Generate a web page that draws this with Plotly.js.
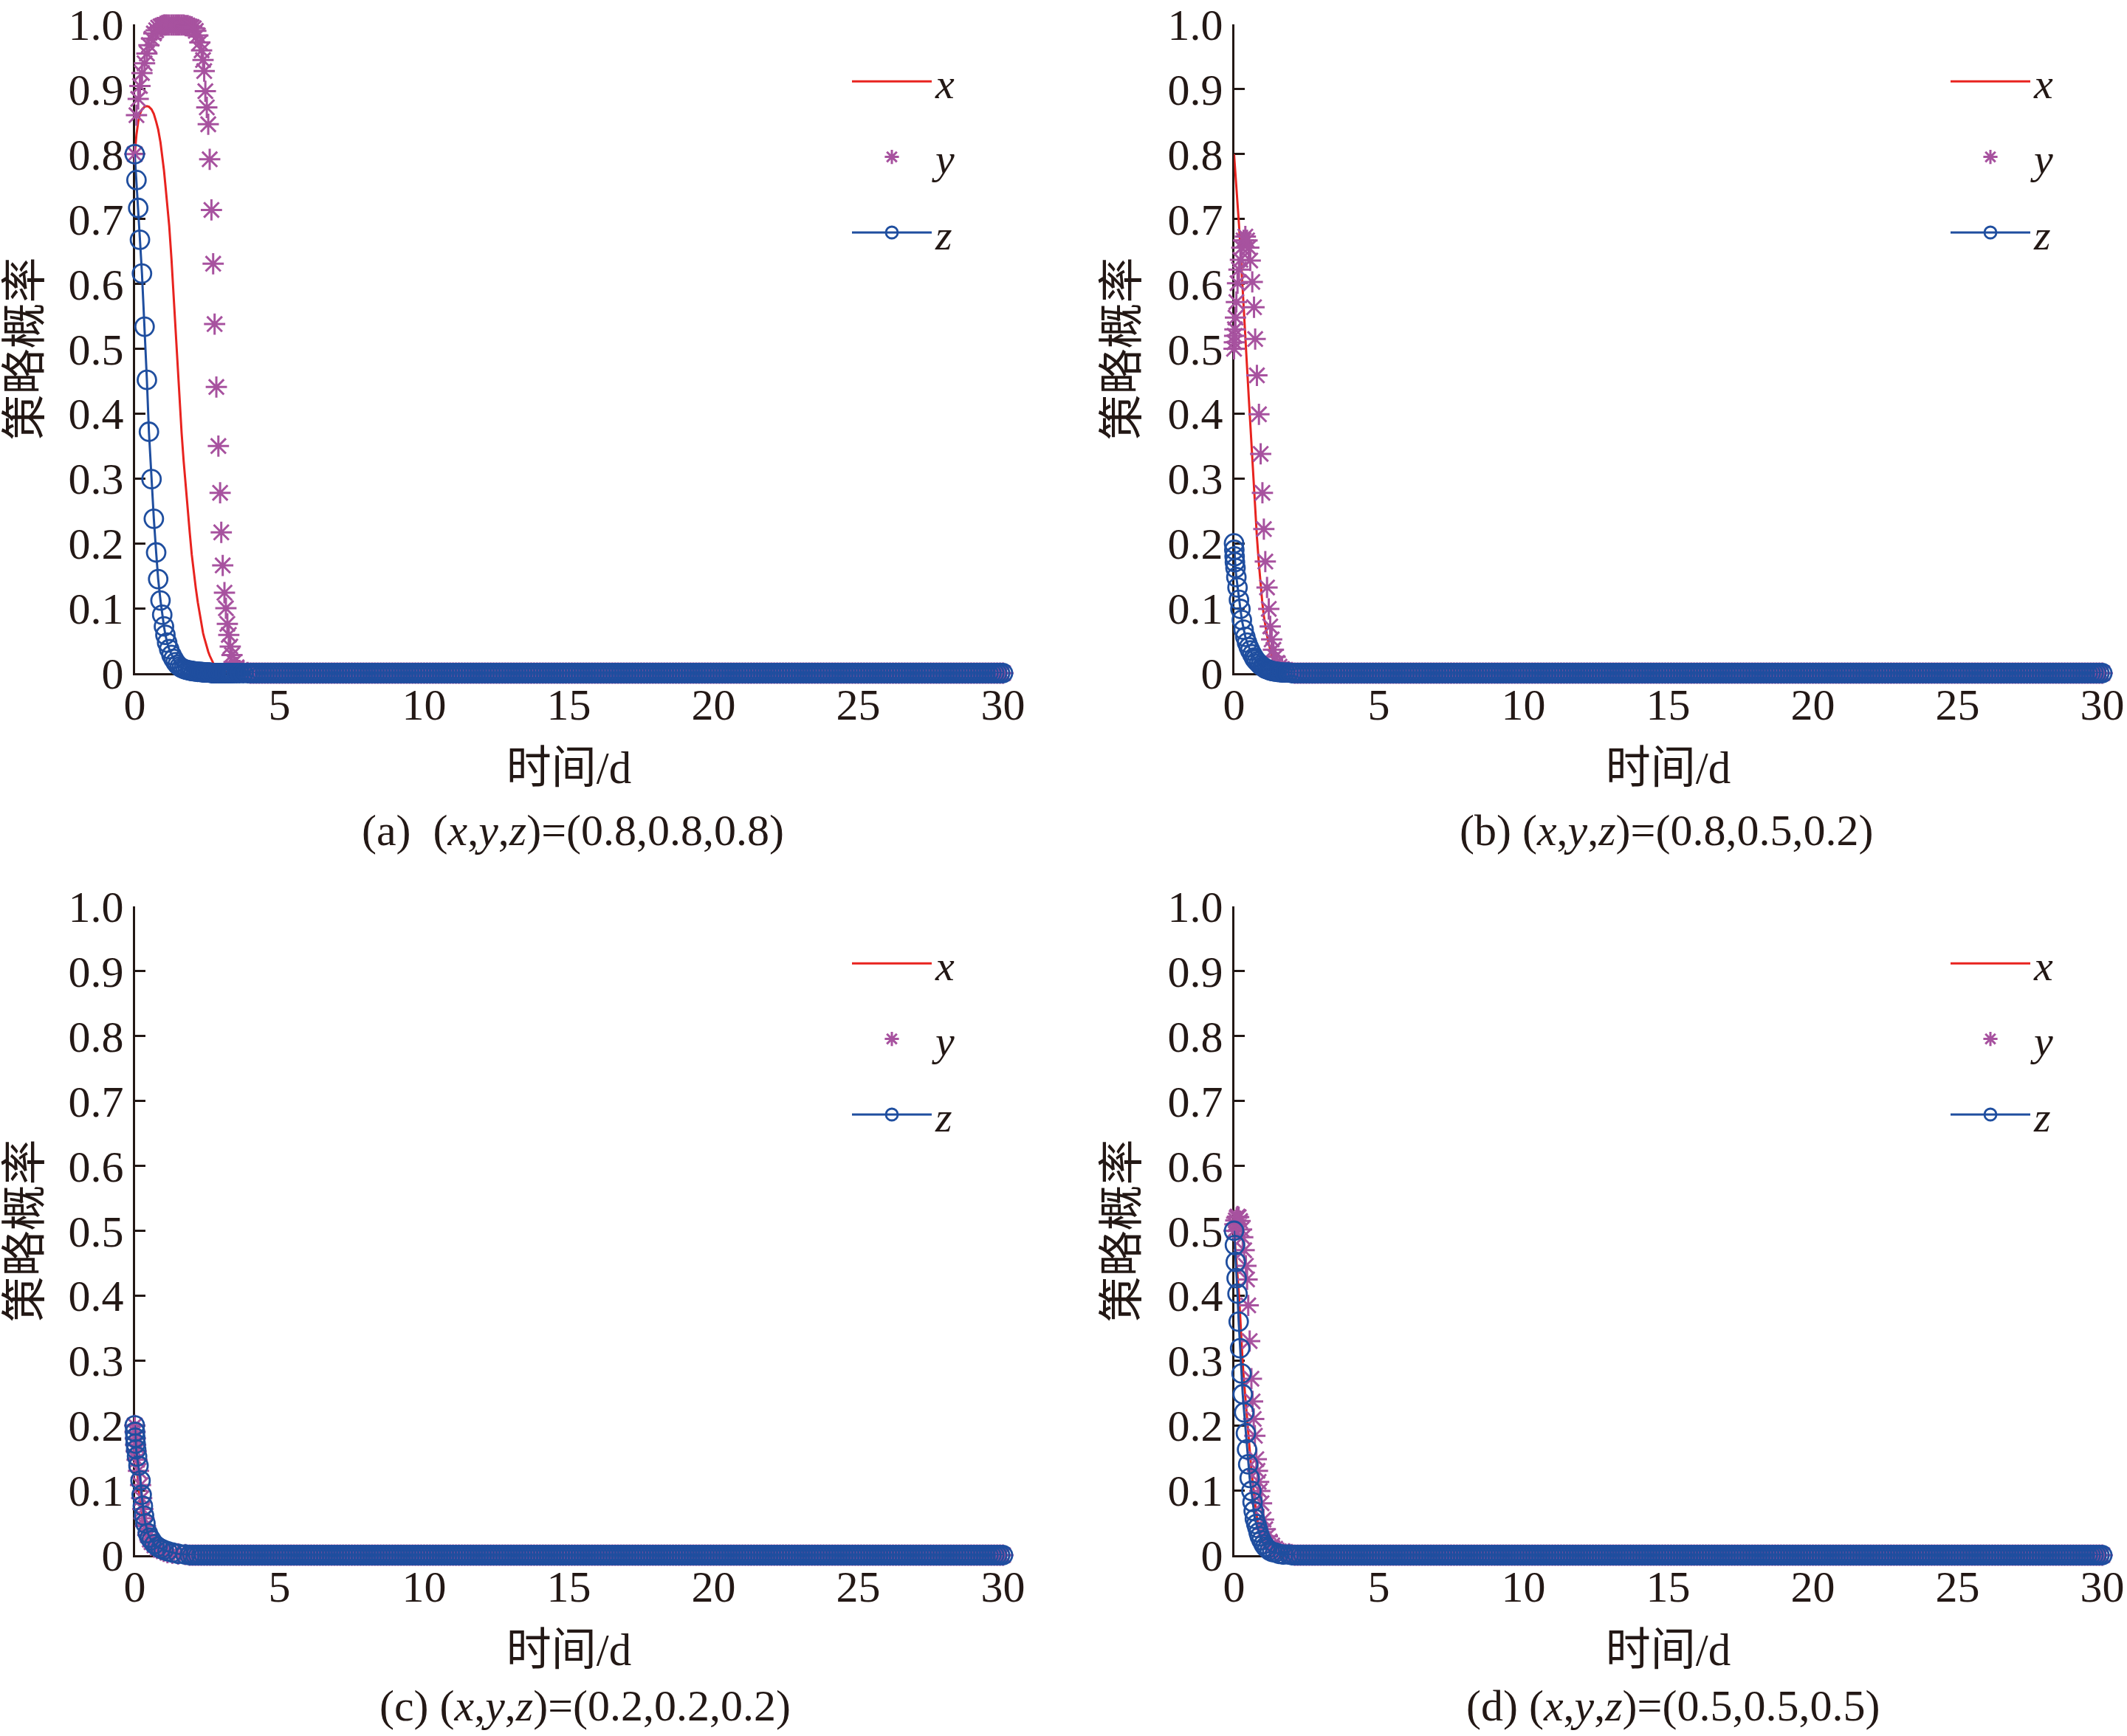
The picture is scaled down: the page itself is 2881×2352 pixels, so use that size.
<!DOCTYPE html>
<html>
<head>
<meta charset="utf-8">
<script src="https://cdn.plot.ly/plotly-3.0.1.min.js"></script>
<style>html,body{margin:0;padding:0;background:#fff;}</style>
</head>
<body>
<div id="chart" style="width:2881px;height:2352px;"></div>
<script>
// ---------- data ----------
const xTicks = [0, 5, 10, 15, 20, 25, 30];
const yTicks = [0, 0.1, 0.2, 0.3, 0.4, 0.5, 0.6, 0.7, 0.8, 0.9, 1.0];
const yTickText = ['0', '0.1', '0.2', '0.3', '0.4', '0.5', '0.6', '0.7', '0.8', '0.9', '1.0'];
const seriesNames = ['x', 'y', 'z'];
const xTitle = '时间/d';
const yTitle = '策略概率';
const captions = [
  '(a)\u00a0\u00a0(<i>x</i>,<i>y</i>,<i>z</i>)=(0.8,0.8,0.8)',
  '(b) (<i>x</i>,<i>y</i>,<i>z</i>)=(0.8,0.5,0.2)',
  '(c) (<i>x</i>,<i>y</i>,<i>z</i>)=(0.2,0.2,0.2)',
  '(d) (<i>x</i>,<i>y</i>,<i>z</i>)=(0.5,0.5,0.5)'
];

// common tail (t >= 4, all strategies at 0): 261 points
const tailT = [
  4,4.1,4.2,4.3,4.4,4.5,4.6,4.7,4.8,4.9,
  5,5.1,5.2,5.3,5.4,5.5,5.6,5.7,5.8,5.9,
  6,6.1,6.2,6.3,6.4,6.5,6.6,6.7,6.8,6.9,
  7,7.1,7.2,7.3,7.4,7.5,7.6,7.7,7.8,7.9,
  8,8.1,8.2,8.3,8.4,8.5,8.6,8.7,8.8,8.9,
  9,9.1,9.2,9.3,9.4,9.5,9.6,9.7,9.8,9.9,
  10,10.1,10.2,10.3,10.4,10.5,10.6,10.7,10.8,10.9,
  11,11.1,11.2,11.3,11.4,11.5,11.6,11.7,11.8,11.9,
  12,12.1,12.2,12.3,12.4,12.5,12.6,12.7,12.8,12.9,
  13,13.1,13.2,13.3,13.4,13.5,13.6,13.7,13.8,13.9,
  14,14.1,14.2,14.3,14.4,14.5,14.6,14.7,14.8,14.9,
  15,15.1,15.2,15.3,15.4,15.5,15.6,15.7,15.8,15.9,
  16,16.1,16.2,16.3,16.4,16.5,16.6,16.7,16.8,16.9,
  17,17.1,17.2,17.3,17.4,17.5,17.6,17.7,17.8,17.9,
  18,18.1,18.2,18.3,18.4,18.5,18.6,18.7,18.8,18.9,
  19,19.1,19.2,19.3,19.4,19.5,19.6,19.7,19.8,19.9,
  20,20.1,20.2,20.3,20.4,20.5,20.6,20.7,20.8,20.9,
  21,21.1,21.2,21.3,21.4,21.5,21.6,21.7,21.8,21.9,
  22,22.1,22.2,22.3,22.4,22.5,22.6,22.7,22.8,22.9,
  23,23.1,23.2,23.3,23.4,23.5,23.6,23.7,23.8,23.9,
  24,24.1,24.2,24.3,24.4,24.5,24.6,24.7,24.8,24.9,
  25,25.1,25.2,25.3,25.4,25.5,25.6,25.7,25.8,25.9,
  26,26.1,26.2,26.3,26.4,26.5,26.6,26.7,26.8,26.9,
  27,27.1,27.2,27.3,27.4,27.5,27.6,27.7,27.8,27.9,
  28,28.1,28.2,28.3,28.4,28.5,28.6,28.7,28.8,28.9,
  29,29.1,29.2,29.3,29.4,29.5,29.6,29.7,29.8,29.9,
  30];
const tailZero = [
  0,0,0,0,0,0,0,0,0,0,
  0,0,0,0,0,0,0,0,0,0,
  0,0,0,0,0,0,0,0,0,0,
  0,0,0,0,0,0,0,0,0,0,
  0,0,0,0,0,0,0,0,0,0,
  0,0,0,0,0,0,0,0,0,0,
  0,0,0,0,0,0,0,0,0,0,
  0,0,0,0,0,0,0,0,0,0,
  0,0,0,0,0,0,0,0,0,0,
  0,0,0,0,0,0,0,0,0,0,
  0,0,0,0,0,0,0,0,0,0,
  0,0,0,0,0,0,0,0,0,0,
  0,0,0,0,0,0,0,0,0,0,
  0,0,0,0,0,0,0,0,0,0,
  0,0,0,0,0,0,0,0,0,0,
  0,0,0,0,0,0,0,0,0,0,
  0,0,0,0,0,0,0,0,0,0,
  0,0,0,0,0,0,0,0,0,0,
  0,0,0,0,0,0,0,0,0,0,
  0,0,0,0,0,0,0,0,0,0,
  0,0,0,0,0,0,0,0,0,0,
  0,0,0,0,0,0,0,0,0,0,
  0,0,0,0,0,0,0,0,0,0,
  0,0,0,0,0,0,0,0,0,0,
  0,0,0,0,0,0,0,0,0,0,
  0,0,0,0,0,0,0,0,0,0,
  0];

// (a) (0.8,0.8,0.8)
const tA = [0,0.06,0.12,0.18,0.25,0.34,0.42,0.49,0.58,0.66,
  0.74,0.81,0.89,0.95,1.01,1.06,1.12,1.19,1.27,1.34,
  1.41,1.48,1.55,1.62,1.69,1.76,1.83,1.90,1.97,2.04,
  2.11,2.18,2.25,2.31,2.36,2.40,2.44,2.49,2.54,2.59,
  2.65,2.71,2.76,2.82,2.89,2.95,2.99,3.04,3.10,3.15,
  3.20,3.25,3.30,3.36,3.43,3.52,3.62,3.75,3.90];
const xA = [0.80,0.83,0.85,0.862,0.869,0.873,0.874,0.873,0.869,0.862,
  0.85,0.838,0.818,0.798,0.775,0.752,0.727,0.69,0.638,0.585,
  0.53,0.472,0.417,0.37,0.327,0.287,0.25,0.217,0.183,0.155,
  0.131,0.109,0.089,0.072,0.062,0.055,0.048,0.039,0.033,0.027,
  0.021,0.015,0.011,0.009,0.006,0.004,0.003,0.003,0.002,0.002,
  0.001,0.001,0.001,0,0,0,0,0,0];
const yA = [0.80,0.86,0.885,0.905,0.925,0.94,0.955,0.968,0.978,0.986,
  0.991,0.995,0.997,0.998,0.999,0.999,0.999,0.999,0.999,0.999,
  0.999,0.999,0.999,0.999,0.999,0.998,0.998,0.997,0.996,0.994,
  0.99,0.983,0.972,0.96,0.945,0.928,0.897,0.872,0.846,0.792,
  0.714,0.631,0.538,0.441,0.35,0.278,0.217,0.166,0.124,0.1,
  0.076,0.059,0.041,0.028,0.017,0.009,0.004,0.002,0.001];
const zA = [0.80,0.76,0.717,0.668,0.616,0.534,0.452,0.372,0.299,0.238,
  0.186,0.145,0.112,0.09,0.072,0.059,0.047,0.037,0.028,0.022,
  0.017,0.013,0.010,0.008,0.0065,0.0055,0.0045,0.004,0.0035,0.003,
  0.0025,0.002,0.002,0.0015,0.0015,0.001,0.001,0.001,0.001,0.001,
  0,0,0,0,0,0,0,0,0,0,
  0,0,0,0,0,0,0,0,0];

// (b) (0.8,0.5,0.2)
const tB = [0,0.01,0.02,0.03,0.05,0.08,0.12,0.17,0.22,0.27,
  0.33,0.39,0.45,0.51,0.56,0.63,0.69,0.73,0.79,0.86,
  0.92,0.98,1.03,1.08,1.14,1.20,1.25,1.30,1.36,1.42,
  1.49,1.57,1.66,1.76,1.88,
  2.0,2.1,2.2,2.3,2.4,2.5,2.6,2.7,2.8,2.9,
  3.0,3.1,3.2,3.3,3.4,3.5,3.6,3.7,3.8,3.9];
const xB = [0.8,0.794,0.788,0.782,0.771,0.754,0.73,0.692,0.654,0.617,
  0.568,0.519,0.471,0.424,0.385,0.328,0.28,0.252,0.21,0.168,
  0.135,0.107,0.088,0.072,0.058,0.045,0.036,0.029,0.023,0.018,
  0.013,0.009,0.006,0.004,0.003,
  0.002,0.001,0.001,0,0,0,0,0,0,0,
  0,0,0,0,0,0,0,0,0,0];
const yB = [0.5,0.51,0.52,0.53,0.548,0.572,0.601,0.622,0.637,0.656,
  0.667,0.673,0.667,0.656,0.636,0.603,0.564,0.515,0.459,0.399,
  0.338,0.278,0.222,0.172,0.132,0.099,0.072,0.052,0.036,0.025,
  0.016,0.010,0.006,0.003,0.002,
  0.001,0,0,0,0,0,0,0,0,0,
  0,0,0,0,0,0,0,0,0,0];
const zB = [0.2,0.19,0.18,0.171,0.162,0.148,0.132,0.113,0.099,0.082,
  0.067,0.056,0.047,0.04,0.035,0.029,0.024,0.021,0.018,0.015,
  0.012,0.01,0.009,0.007,0.006,0.005,0.004,0.0035,0.003,0.0025,
  0.002,0.0015,0.001,0.001,0.001,
  0,0,0,0,0,0,0,0,0,0,
  0,0,0,0,0,0,0,0,0,0];

// (c) (0.2,0.2,0.2)
const tC = [0,0.01,0.02,0.03,0.05,0.08,0.13,0.2,0.24,0.28,
  0.32,0.37,0.45,0.52,0.58,0.68,0.79,0.9,1.0,1.13,
  1.3,1.5,1.75,
  1.9,2.0,2.1,2.2,2.3,2.4,2.5,2.6,2.7,2.8,2.9,
  3.0,3.1,3.2,3.3,3.4,3.5,3.6,3.7,3.8,3.9];
const xC = [0.2,0.188,0.177,0.167,0.15,0.13,0.105,0.08,0.068,0.058,
  0.05,0.041,0.03,0.023,0.018,0.013,0.009,0.006,0.005,0.003,
  0.002,0.001,0,
  0,0,0,0,0,0,0,0,0,0,0,
  0,0,0,0,0,0,0,0,0,0];
const yC = [0.2,0.19,0.18,0.17,0.16,0.147,0.13,0.108,0.088,0.071,
  0.057,0.045,0.031,0.024,0.02,0.015,0.011,0.008,0.006,0.004,
  0.003,0.002,0.001,
  0,0,0,0,0,0,0,0,0,0,0,
  0,0,0,0,0,0,0,0,0,0];
const zC = [0.2,0.19,0.181,0.172,0.163,0.152,0.138,0.115,0.093,0.076,
  0.061,0.049,0.034,0.027,0.023,0.017,0.013,0.010,0.008,0.006,
  0.004,0.002,0.001,
  0,0,0,0,0,0,0,0,0,0,0,
  0,0,0,0,0,0,0,0,0,0];

// (d) (0.5,0.5,0.5)
const tD = [0,0.03,0.06,0.09,0.12,0.16,0.21,0.26,0.3,0.35,
  0.41,0.45,0.49,0.54,0.6,0.64,0.68,0.72,0.77,0.81,
  0.85,0.89,0.95,1.02,1.08,1.15,1.23,1.32,1.42,1.55,
  1.7,1.9,
  2.0,2.1,2.2,2.3,2.4,2.5,2.6,2.7,2.8,2.9,
  3.0,3.1,3.2,3.3,3.4,3.5,3.6,3.7,3.8,3.9];
const xD = [0.5,0.483,0.466,0.448,0.43,0.408,0.37,0.319,0.295,0.265,
  0.232,0.21,0.184,0.162,0.131,0.115,0.097,0.08,0.064,0.054,
  0.042,0.035,0.026,0.019,0.015,0.01,0.007,0.005,0.004,0.002,
  0.001,0,
  0,0,0,0,0,0,0,0,0,0,
  0,0,0,0,0,0,0,0,0,0];
const yD = [0.5,0.51,0.516,0.52,0.522,0.521,0.515,0.502,0.49,0.47,
  0.446,0.425,0.385,0.33,0.272,0.237,0.21,0.184,0.148,0.13,
  0.113,0.099,0.08,0.055,0.04,0.029,0.021,0.015,0.01,0.006,
  0.003,0.002,
  0.001,0,0,0,0,0,0,0,0,0,
  0,0,0,0,0,0,0,0,0,0];
const zD = [0.5,0.478,0.452,0.427,0.403,0.36,0.319,0.28,0.248,0.22,
  0.188,0.163,0.14,0.119,0.099,0.082,0.068,0.056,0.048,0.042,
  0.035,0.029,0.023,0.017,0.013,0.01,0.007,0.005,0.004,0.002,
  0.001,0.001,
  0,0,0,0,0,0,0,0,0,0,
  0,0,0,0,0,0,0,0,0,0];

// ---------- style ----------
const W = 2881, H = 2352;
const INK = '#231815';
const RED = '#E8231F';
const PURPLE = '#A7529F';
const BLUE = '#1F4E9F';
const SERIF = 'Liberation Serif, "Noto Sans CJK SC", serif';

const panels = [
  {t: tA, s: [xA, yA, zA]},
  {t: tB, s: [xB, yB, zB]},
  {t: tC, s: [xC, yC, zC]},
  {t: tD, s: [xD, yD, zD]}
];

// pixel geometry of the four plot areas
const geo = [
  {x0: 182.5, x1: 1358.5, y0: 912, y1: 33},
  {x0: 1671.5, x1: 2847.5, y0: 912, y1: 33},
  {x0: 182.5, x1: 1358.5, y0: 2107, y1: 1228},
  {x0: 1671.5, x1: 2847.5, y0: 2107, y1: 1228}
];
const legendPos = [
  {x: 1149, y: 66}, {x: 2637, y: 66}, {x: 1149, y: 1261}, {x: 2637, y: 1261}
];
const captionPos = [
  {x: 776, y: 1125}, {x: 2257, y: 1125}, {x: 792, y: 2311}, {x: 2266, y: 2311}
];

const data = [];
const layout = {
  width: W, height: H,
  margin: {l: 0, r: 0, t: 0, b: 0},
  paper_bgcolor: '#fff', plot_bgcolor: 'rgba(0,0,0,0)',
  font: {family: SERIF, color: INK},
  annotations: []
};

panels.forEach((p, i) => {
  const k = i + 1;
  const sfx = k === 1 ? '' : String(k);
  const lg = k === 1 ? 'legend' : 'legend' + k;
  const T = p.t.concat(tailT);
  const common = {xaxis: 'x' + sfx, yaxis: 'y' + sfx, legend: lg, cliponaxis: false};
  data.push(Object.assign({}, common, {
    x: T, y: p.s[0].concat(tailZero), name: seriesNames[0], legendgroup: 'gx' + k,
    mode: 'lines', line: {color: RED, width: 3}
  }));
  data.push(Object.assign({}, common, {
    x: T, y: p.s[1].concat(tailZero), name: seriesNames[1], legendgroup: 'gy' + k,
    mode: 'markers',
    marker: {symbol: 'asterisk-open', size: 24, color: PURPLE, line: {color: PURPLE, width: 3}}
  }));
  data.push(Object.assign({}, common, {
    x: T, y: p.s[2].concat(tailZero), name: seriesNames[2], legendgroup: 'gz' + k,
    mode: 'lines+markers', line: {color: BLUE, width: 3},
    marker: {symbol: 'circle-open', size: 25, color: BLUE, line: {color: BLUE, width: 2.8}}
  }));

  const g = geo[i];
  layout['xaxis' + sfx] = {
    domain: [g.x0 / W, g.x1 / W], anchor: 'y' + sfx,
    range: [0, 30], tickvals: xTicks, ticktext: xTicks.map(String),
    ticks: 'inside', ticklen: 14, tickwidth: 3, tickcolor: INK,
    showline: true, linewidth: 3, linecolor: INK, mirror: false,
    showgrid: false, zeroline: false, layer: 'below traces',
    tickfont: {family: SERIF, size: 60, color: INK}, ticklabelstandoff: -12,
    title: {text: xTitle, font: {family: SERIF, size: 61, color: INK}, standoff: 32},
    fixedrange: true
  };
  layout['yaxis' + sfx] = {
    domain: [1 - g.y0 / H, 1 - g.y1 / H], anchor: 'x' + sfx,
    range: [0, 1], tickvals: yTicks, ticktext: yTickText,
    ticks: 'inside', ticklen: 14, tickwidth: 3, tickcolor: INK,
    showline: true, linewidth: 3, linecolor: INK, mirror: false,
    showgrid: false, zeroline: false, layer: 'below traces',
    tickfont: {family: SERIF, size: 60, color: INK},
    title: {text: yTitle, font: {family: SERIF, size: 62, color: INK}, standoff: 20},
    fixedrange: true
  };
  const L = legendPos[i];
  layout[lg] = {
    x: L.x / W, y: 1 - L.y / H, xanchor: 'left', yanchor: 'top',
    bgcolor: 'rgba(0,0,0,0)', borderwidth: 0,
    font: {family: SERIF, size: 58, color: INK, style: 'italic'},
    tracegroupgap: 24, itemwidth: 108, traceorder: 'grouped'
  };
  const C = captionPos[i];
  layout.annotations.push({
    xref: 'paper', yref: 'paper', x: C.x / W, y: 1 - C.y / H,
    xanchor: 'center', yanchor: 'middle', showarrow: false,
    text: captions[i], font: {family: SERIF, size: 60, color: INK}
  });
});

Plotly.newPlot('chart', data, layout, {staticPlot: true, displayModeBar: false});
</script>
</body>
</html>
